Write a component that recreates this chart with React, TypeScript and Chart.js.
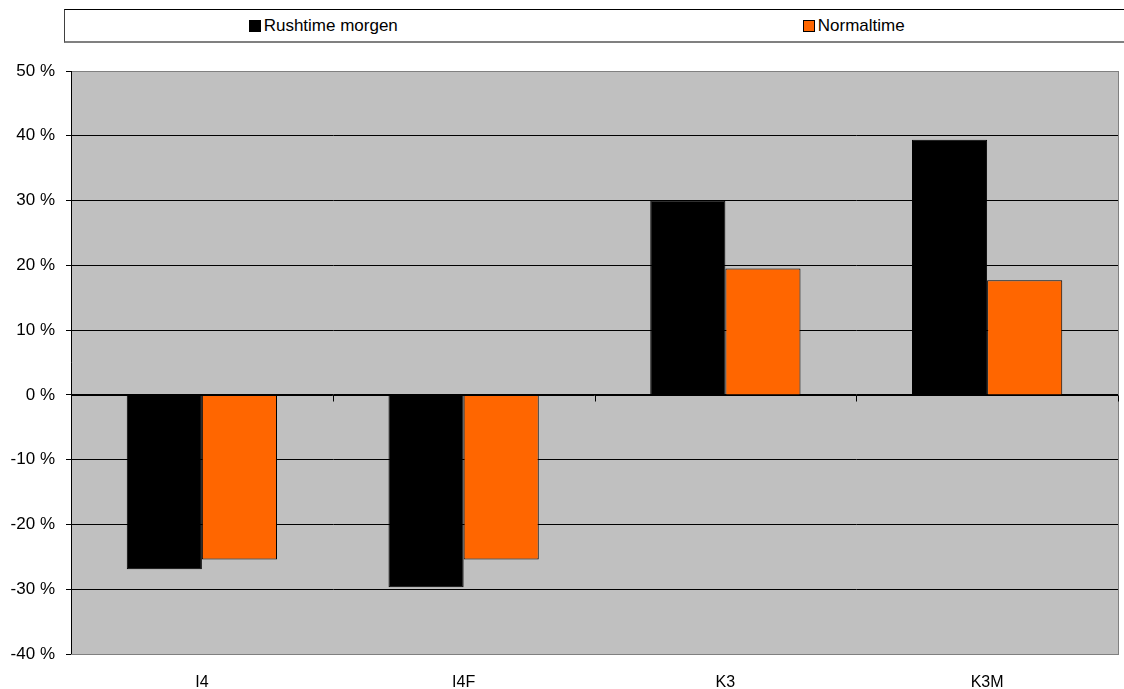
import React, { useEffect, useRef } from "react";
import { Chart, registerables } from "chart.js";

Chart.register(...registerables);

const categories = ["I4", "I4F", "K3", "K3M"];
const rushtimeMorgen = [-26.9, -29.7, 30.0, 39.4];
const normaltime = [-25.4, -25.4, 19.5, 17.7];
const seriesNames = ["Rushtime morgen", "Normaltime"];
const seriesColors = ["#000000", "#FF6600"];
const yMin = -40;
const yMax = 50;
const yStep = 10;

const FONT = "'Liberation Sans', Arial, sans-serif";
const W = 1124;
const H = 689;

const plotDecor = {
  id: "plotDecor",
  beforeDraw(chart: any) {
    const { ctx, chartArea } = chart;
    ctx.save();
    ctx.fillStyle = "#C0C0C0";
    ctx.fillRect(chartArea.left, chartArea.top, chartArea.right - chartArea.left, chartArea.bottom - chartArea.top);
    ctx.restore();
  },
  afterDatasetsDraw(chart: any) {
    const { ctx, chartArea, scales } = chart;
    const y0 = Math.round(scales.y.getPixelForValue(0)) + 0.5;
    ctx.save();
    ctx.strokeStyle = "#808080";
    ctx.lineWidth = 1;
    ctx.strokeRect(Math.round(chartArea.left) + 0.5, Math.round(chartArea.top) + 0.5,
      Math.round(chartArea.right - chartArea.left), Math.round(chartArea.bottom - chartArea.top));
    ctx.strokeStyle = "#000";
    ctx.beginPath();
    ctx.moveTo(Math.round(chartArea.left) + 0.5, chartArea.top);
    ctx.lineTo(Math.round(chartArea.left) + 0.5, chartArea.bottom);
    ctx.stroke();
    ctx.beginPath();
    ctx.moveTo(chartArea.left, y0);
    ctx.lineTo(chartArea.right, y0);
    const n = categories.length;
    for (let k = 0; k <= n; k++) {
      const x = Math.round(scales.x.getPixelForValue(k - 0.5)) + 0.5;
      ctx.moveTo(x, y0);
      ctx.lineTo(x, y0 + 6);
    }
    ctx.stroke();
    ctx.restore();
  },
};

function Legend() {
  return (
    <div
      style={{
        position: "absolute",
        left: 64,
        top: 9,
        width: 1062,
        height: 34,
        background: "#fff",
        borderTop: "1px solid #000",
        borderLeft: "1px solid #404040",
        borderBottom: "2px solid #808080",
        display: "flex",
        alignItems: "center",
        fontFamily: FONT,
        fontSize: 17,
        color: "#000",
        boxSizing: "border-box",
      }}
    >
      {seriesNames.map((name, i) => (
        <div
          key={name}
          style={{ flex: 1, display: "flex", justifyContent: "center", alignItems: "center", paddingRight: 14 }}
        >
          <span
            style={{
              display: "inline-block",
              width: 10,
              height: 10,
              background: seriesColors[i],
              border: "1px solid #000",
              marginRight: 3,
            }}
          />
          <span>{name}</span>
        </div>
      ))}
    </div>
  );
}

export default function App() {
  const canvasRef = useRef<HTMLCanvasElement | null>(null);

  useEffect(() => {
    if (!canvasRef.current) return;
    const chart = new Chart(canvasRef.current, {
      type: "bar",
      data: {
        labels: categories,
        datasets: [
          {
            label: seriesNames[0],
            data: rushtimeMorgen,
            backgroundColor: seriesColors[0],
            borderColor: "#000",
            borderWidth: 1,
          },
          {
            label: seriesNames[1],
            data: normaltime,
            backgroundColor: seriesColors[1],
            borderColor: "#000",
            borderWidth: 1,
          },
        ],
      },
      options: {
        responsive: false,
        animation: false,
        devicePixelRatio: 1,
        layout: { padding: { top: 71, right: 6, left: 0, bottom: 0 } },
        plugins: {
          legend: { display: false },
          tooltip: { enabled: false },
          title: { display: false },
        },
        datasets: {
          bar: { categoryPercentage: 0.574, barPercentage: 1 },
        },
        scales: {
          x: {
            grid: { display: false },
            border: { display: false },
            ticks: {
              font: { family: FONT, size: 16 },
              color: "#000",
              padding: 11,
              maxRotation: 0,
            },
            afterFit(scale: any) {
              scale.height = 35;
            },
          },
          y: {
            min: yMin,
            max: yMax,
            ticks: {
              stepSize: yStep,
              font: { family: FONT, size: 17 },
              color: "#000",
              padding: 11,
              callback: (v: any) => `${v} %`,
            },
            grid: {
              color: (ctx: any) =>
                ctx.tick && (ctx.tick.value === yMax || ctx.tick.value === yMin) ? "#808080" : "#000",
              tickColor: "#000",
              tickLength: 5,
              lineWidth: 1,
            },
            border: { display: true, color: "#000", width: 1 },
            afterFit(scale: any) {
              scale.width = 71;
            },
          },
        },
      },
      plugins: [plotDecor],
    });
    return () => chart.destroy();
  }, []);

  return (
    <div style={{ position: "fixed", left: 0, top: 0, width: W, height: H, background: "#fff", overflow: "hidden" }}>
      <canvas ref={canvasRef} width={W} height={H} style={{ display: "block", width: W, height: H }} />
      <Legend />
    </div>
  );
}
